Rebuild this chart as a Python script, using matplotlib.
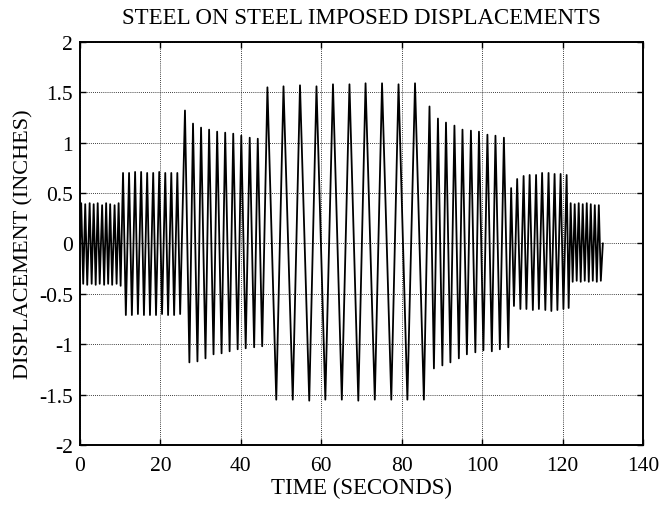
import numpy as np
import matplotlib
matplotlib.use('Agg')
import matplotlib.pyplot as plt

# Peak-to-peak record: alternating extremes (time s, displacement in)
# block 1: +/-0.4 in, ~1.0 s period
blk1_t = [0.0, 0.3, 0.8, 1.3, 1.8, 2.4, 2.9, 3.4, 3.9, 4.4, 4.9, 5.5, 6.0, 6.5, 7.0,
          7.5, 8.0, 8.6, 9.1, 9.6, 10.1]
blk1_y = [0.0, 0.40, -0.40, 0.39, -0.41, 0.40, -0.40, 0.39, -0.41, 0.40, -0.40, 0.38, -0.41,
          0.40, -0.40, 0.39, -0.41, 0.38, -0.40, 0.40, -0.42]
# block 2: +/-0.7 in, ~1.5 s period
blk2_t = [10.7, 11.4, 12.2, 12.9, 13.7, 14.4, 15.2, 15.9, 16.7, 17.4, 18.2, 18.9, 19.7,
          20.4, 21.2, 21.9, 22.7, 23.4, 24.2, 24.9]
blk2_y = [0.70, -0.71, 0.70, -0.71, 0.71, -0.70, 0.71, -0.71, 0.70, -0.71, 0.70, -0.71, 0.71,
          -0.70, 0.70, -0.71, 0.70, -0.71, 0.70, -0.70]
# block 3: ~1.1 in, ~2 s period
blk3_t = [26.1, 27.2, 28.1, 29.2, 30.1, 31.2, 32.1, 33.2, 34.1, 35.2, 36.1, 37.2, 38.1,
          39.2, 40.1, 41.2, 42.2, 43.3, 44.2, 45.3]
blk3_y = [1.32, -1.18, 1.19, -1.17, 1.15, -1.14, 1.13, -1.10, 1.11, -1.09, 1.10, -1.07, 1.09,
          -1.05, 1.07, -1.04, 1.05, -1.03, 1.04, -1.02]
# block 4: ~1.55 in, ~4.1 s period
blk4_t = [46.6, 48.8, 50.6, 52.9, 54.7, 57.0, 58.8, 61.0, 62.9, 65.1, 67.0, 69.2, 71.0,
          73.3, 75.1, 77.4, 79.2, 81.4, 83.3, 85.5]
blk4_y = [1.55, -1.55, 1.56, -1.55, 1.57, -1.56, 1.56, -1.55, 1.58, -1.55, 1.58, -1.56, 1.59,
          -1.55, 1.59, -1.55, 1.58, -1.55, 1.59, -1.55]
# block 5: ~1.1 in, ~2 s period
blk5_t = [86.9, 88.0, 89.0, 90.1, 91.0, 92.1, 93.1, 94.2, 95.1, 96.2, 97.2, 98.3, 99.2,
          100.3, 101.3, 102.4, 103.3, 104.4, 105.4, 106.5]
blk5_y = [1.36, -1.24, 1.24, -1.21, 1.20, -1.18, 1.17, -1.14, 1.13, -1.10, 1.12, -1.08, 1.11,
          -1.06, 1.08, -1.07, 1.07, -1.05, 1.05, -1.03]
# block 6: ~0.68 in, ~1.5 s period
blk6_t = [107.2, 107.9, 108.7, 109.5, 110.3, 111.0, 111.8, 112.6, 113.4, 114.1, 114.9,
          115.7, 116.5, 117.2, 118.0, 118.7, 119.5, 120.2, 121.0, 121.5]
blk6_y = [0.55, -0.62, 0.64, -0.65, 0.67, -0.65, 0.68, -0.66, 0.68, -0.65, 0.70, -0.66,
          0.70, -0.67, 0.69, -0.66, 0.69, -0.65, 0.68, -0.64]
# block 7: +/-0.4 in, ~1.0 s period
blk7_t = [122.0, 122.5, 123.0, 123.5, 124.0, 124.5, 125.0, 125.5, 126.0, 126.5, 127.0,
          127.5, 128.0, 128.5, 129.0, 129.5, 130.0]
blk7_y = [0.40, -0.38, 0.39, -0.37, 0.40, -0.38, 0.39, -0.37, 0.40, -0.38, 0.39, -0.37,
          0.38, -0.38, 0.38, -0.37, 0.0]

xticks = [0, 20, 40, 60, 80, 100, 120, 140]
yticks = [-2, -1.5, -1, -0.5, 0, 0.5, 1, 1.5, 2]
ytick_labels = ['-2', '-1.5', '-1', '-0.5', '0', '0.5', '1', '1.5', '2']

t = np.concatenate([blk1_t, blk2_t, blk3_t, blk4_t, blk5_t, blk6_t, blk7_t])
y = np.concatenate([blk1_y, blk2_y, blk3_y, blk4_y, blk5_y, blk6_y, blk7_y])

plt.rcParams['font.family'] = ['Liberation Serif', 'DejaVu Serif']

fig = plt.figure(figsize=(6.65, 5.1), dpi=100)
ax = fig.add_axes([0.1203, 0.1255, 0.8467, 0.7902])

ax.plot(t, y, color='black', linewidth=1.3)

ax.set_xlim(0, 140)
ax.set_ylim(-2, 2)
ax.set_xticks(xticks)
ax.set_yticks(yticks)
ax.set_yticklabels(ytick_labels)
ax.tick_params(direction='in', top=True, right=True, labelsize=15.5, length=4, width=1)
ax.tick_params(axis='x', pad=8)
ax.tick_params(axis='y', pad=5)
ax.grid(True, color='black', linestyle=(0, (1, 1.5)), linewidth=0.6)
for s in ax.spines.values():
    s.set_linewidth(1.4)

ax.set_title('STEEL ON STEEL IMPOSED DISPLACEMENTS', fontsize=16.5, pad=14)
ax.set_xlabel('TIME (SECONDS)', fontsize=16.5, labelpad=1)
ax.set_ylabel('DISPLACEMENT (INCHES)', fontsize=16, labelpad=4)

fig.savefig('out.png', dpi=100)
